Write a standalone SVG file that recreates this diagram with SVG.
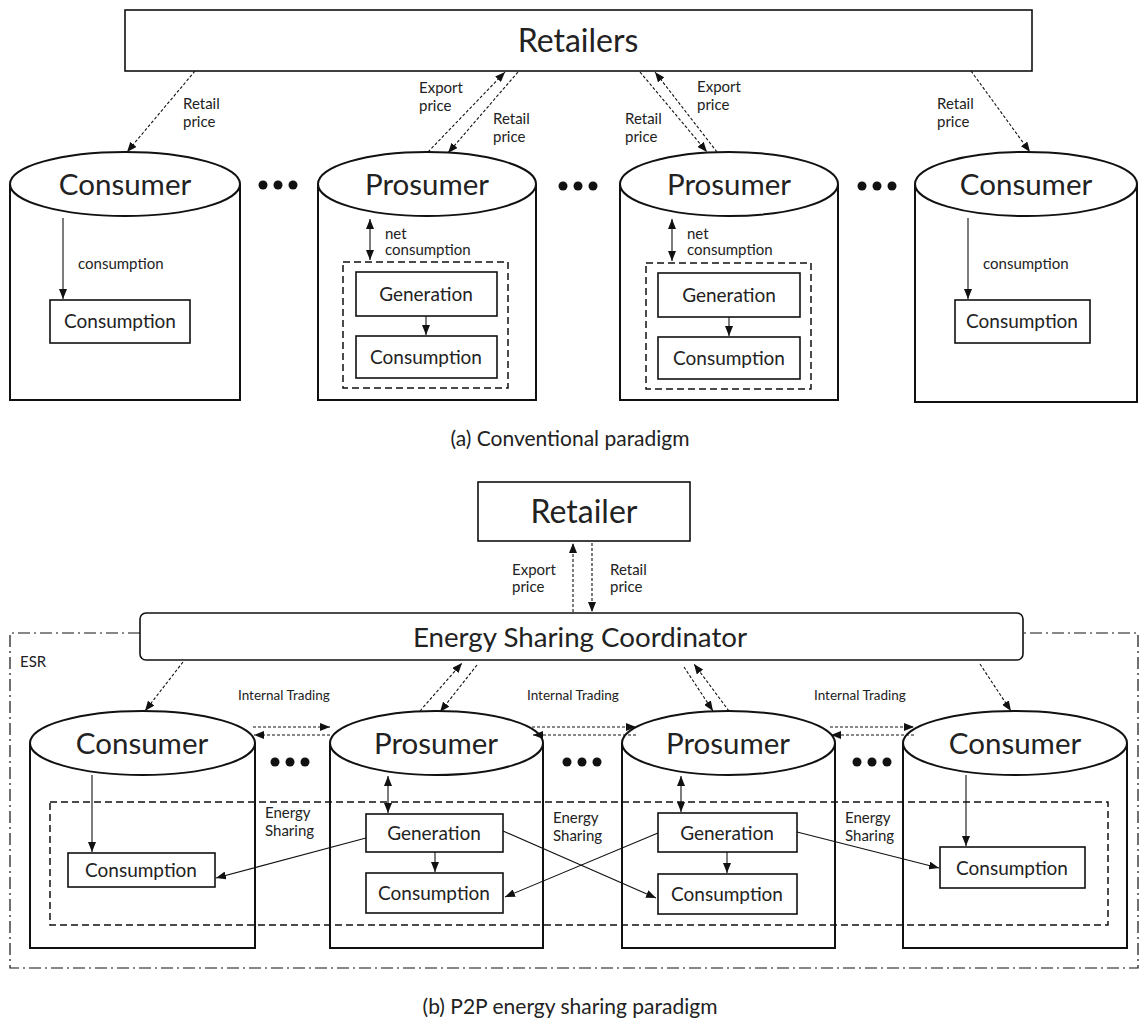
<svg xmlns="http://www.w3.org/2000/svg" width="1140" height="1023" viewBox="0 0 1140 1023">
<style>
text{font-family:Lato,"Open Sans","Liberation Sans",sans-serif;fill:#222}
.big{font-size:29.5px;text-anchor:middle}
.rt{font-size:32px;text-anchor:middle}
.mid{font-size:19px;text-anchor:middle}
.sm{font-size:15px}
.it{font-size:13.5px}
.cap{font-size:21px;text-anchor:middle}
.cyl{fill:#fff;stroke:#111;stroke-width:2}
.box{fill:#fff;stroke:#111;stroke-width:1.6}
.dbox{fill:none;stroke:#111;stroke-width:1.5;stroke-dasharray:7,4}
.ln{fill:none;stroke:#111;stroke-width:1.1}
.dl{fill:none;stroke:#111;stroke-width:1.1;stroke-dasharray:3,2}
.dot{fill:#111}
</style>
<defs>
<marker id="ah" viewBox="0 0 10 8" refX="10" refY="4" markerWidth="10" markerHeight="8" markerUnits="userSpaceOnUse" orient="auto-start-reverse"><path d="M0,0 L10,4 L0,8 z" fill="#111"/></marker>
</defs>

<!-- (a) Conventional paradigm -->
<g id="retailers"><rect x="125" y="10" width="907" height="61" class="box" stroke-width="2"/><text x="578" y="52" class="rt">Retailers</text></g>

<g id="consumerA1">
<path d="M10,184 V400 H240 V184" class="cyl"/><ellipse cx="125" cy="184" rx="115" ry="32" class="cyl"/>
<text x="125" y="195" class="big">Consumer</text>
<rect x="50" y="300" width="140" height="43" class="box"/><text x="120" y="328" class="mid">Consumption</text>
</g>
<g id="prosumerA1">
<path d="M318,184 V400 H536 V184" class="cyl"/><ellipse cx="427" cy="184" rx="109" ry="32" class="cyl"/>
<text x="427" y="195" class="big">Prosumer</text>
<rect x="343" y="262" width="165" height="126" class="dbox"/>
<rect x="356" y="272" width="141" height="44" class="box"/><text x="426" y="301" class="mid">Generation</text>
<rect x="356" y="336" width="141" height="42" class="box"/><text x="426" y="364" class="mid">Consumption</text>
</g>
<g id="prosumerA2">
<path d="M620,184 V400 H838 V184" class="cyl"/><ellipse cx="729" cy="184" rx="109" ry="32" class="cyl"/>
<text x="729" y="195" class="big">Prosumer</text>
<rect x="646" y="263" width="165" height="126" class="dbox"/>
<rect x="658" y="273" width="142" height="44" class="box"/><text x="729" y="302" class="mid">Generation</text>
<rect x="658" y="337" width="142" height="42" class="box"/><text x="729" y="365" class="mid">Consumption</text>
</g>
<g id="consumerA2">
<path d="M915,184 V402 H1137 V184" class="cyl"/><ellipse cx="1026" cy="184" rx="111" ry="32" class="cyl"/>
<text x="1026" y="195" class="big">Consumer</text>
<rect x="955" y="300" width="135" height="43" class="box"/><text x="1022" y="328" class="mid">Consumption</text>
</g>
<g id="dotsA" class="dot">
<circle cx="263" cy="185" r="4.5"/><circle cx="278" cy="185" r="4.5"/><circle cx="293" cy="185" r="4.5"/>
<circle cx="563" cy="186" r="4.5"/><circle cx="578" cy="186" r="4.5"/><circle cx="593" cy="186" r="4.5"/>
<circle cx="862" cy="186" r="4.5"/><circle cx="877" cy="186" r="4.5"/><circle cx="892" cy="186" r="4.5"/>
</g>

<g id="connectorsA">
<line x1="195" y1="71" x2="127" y2="152" class="dl" marker-end="url(#ah)"/>
<line x1="428" y1="152" x2="505" y2="72" class="dl" marker-end="url(#ah)"/>
<line x1="518" y1="72" x2="448" y2="153" class="dl" marker-end="url(#ah)"/>
<line x1="640" y1="72" x2="707" y2="152" class="dl" marker-end="url(#ah)"/>
<line x1="717" y1="152" x2="655" y2="72" class="dl" marker-end="url(#ah)"/>
<line x1="971" y1="71" x2="1030" y2="152" class="dl" marker-end="url(#ah)"/>
<line x1="63" y1="218" x2="63" y2="299" class="ln" marker-end="url(#ah)"/>
<line x1="370" y1="219" x2="370" y2="260" class="ln" marker-start="url(#ah)" marker-end="url(#ah)"/>
<line x1="426" y1="316" x2="426" y2="335" class="ln" marker-end="url(#ah)"/>
<line x1="672" y1="219" x2="672" y2="261" class="ln" marker-start="url(#ah)" marker-end="url(#ah)"/>
<line x1="729" y1="317" x2="729" y2="336" class="ln" marker-end="url(#ah)"/>
<line x1="968" y1="218" x2="968" y2="299" class="ln" marker-end="url(#ah)"/>
</g>
<g id="labelsA" class="sm">
<text x="183" y="109">Retail</text><text x="183" y="127">price</text>
<text x="419" y="93">Export</text><text x="419" y="111">price</text>
<text x="493" y="124">Retail</text><text x="493" y="142">price</text>
<text x="625" y="124">Retail</text><text x="625" y="142">price</text>
<text x="697" y="92">Export</text><text x="697" y="110">price</text>
<text x="937" y="109">Retail</text><text x="937" y="127">price</text>
<text x="78" y="269">consumption</text>
<text x="385" y="239">net</text><text x="385" y="255">consumption</text>
<text x="687" y="239">net</text><text x="687" y="255">consumption</text>
<text x="983" y="269">consumption</text>
</g>
<text x="570" y="446" class="cap">(a) Conventional paradigm</text>

<!-- (b) P2P energy sharing paradigm -->
<g id="esr"><path d="M140,633 H10 V968 H1138 V633 H1023" fill="none" stroke="#111" stroke-width="1.2" stroke-dasharray="12,4,2,4"/><text x="20" y="667" style="font-size:15px">ESR</text></g>
<g id="retailer"><rect x="478" y="482" width="212" height="59" class="box" stroke-width="2"/><text x="584" y="523" class="rt">Retailer</text></g>
<g id="coordinator"><rect x="140" y="613" width="883" height="47" rx="6" class="box" stroke-width="2"/><text x="580" y="647" class="big" style="font-size:27.7px">Energy Sharing Coordinator</text></g>
<g id="sharedArea"><rect x="50" y="802" width="1058" height="123" class="dbox"/></g>

<g id="consumerB1">
<path d="M30,743 V948 H255 V743" class="cyl" style="fill:none"/><ellipse cx="142.5" cy="743" rx="112.5" ry="32" class="cyl"/>
<text x="142" y="754" class="big">Consumer</text>
<rect x="68" y="853" width="147" height="34" class="box"/><text x="141" y="877" class="mid">Consumption</text>
</g>
<g id="prosumerB1">
<path d="M330,743 V948 H543 V743" class="cyl" style="fill:none"/><ellipse cx="436.5" cy="743" rx="106.5" ry="32" class="cyl"/>
<text x="436" y="754" class="big">Prosumer</text>
<rect x="366" y="814" width="137" height="38" class="box"/><text x="434" y="840" class="mid">Generation</text>
<rect x="366" y="873" width="137" height="40" class="box"/><text x="434" y="900" class="mid">Consumption</text>
</g>
<g id="prosumerB2">
<path d="M622,743 V948 H835 V743" class="cyl" style="fill:none"/><ellipse cx="728.5" cy="743" rx="106.5" ry="32" class="cyl"/>
<text x="728" y="754" class="big">Prosumer</text>
<rect x="658" y="813" width="139" height="39" class="box"/><text x="727" y="840" class="mid">Generation</text>
<rect x="658" y="874" width="139" height="40" class="box"/><text x="727" y="901" class="mid">Consumption</text>
</g>
<g id="consumerB2">
<path d="M903,743 V948 H1127 V743" class="cyl" style="fill:none"/><ellipse cx="1015" cy="743" rx="112" ry="32" class="cyl"/>
<text x="1015" y="754" class="big">Consumer</text>
<rect x="940" y="847" width="145" height="41" class="box"/><text x="1012" y="875" class="mid">Consumption</text>
</g>
<g id="dotsB" class="dot">
<circle cx="275" cy="762" r="4.5"/><circle cx="290" cy="762" r="4.5"/><circle cx="305" cy="762" r="4.5"/>
<circle cx="567" cy="762" r="4.5"/><circle cx="582" cy="762" r="4.5"/><circle cx="597" cy="762" r="4.5"/>
<circle cx="857" cy="762" r="4.5"/><circle cx="872" cy="762" r="4.5"/><circle cx="887" cy="762" r="4.5"/>
</g>

<g id="connectorsB">
<line x1="573" y1="612" x2="573" y2="543" class="dl" marker-end="url(#ah)"/>
<line x1="592" y1="543" x2="592" y2="612" class="dl" marker-end="url(#ah)"/>
<line x1="183" y1="662" x2="145" y2="711" class="dl" marker-end="url(#ah)"/>
<line x1="420" y1="711" x2="462" y2="663" class="dl" marker-end="url(#ah)"/>
<line x1="477" y1="665" x2="440" y2="712" class="dl" marker-end="url(#ah)"/>
<line x1="684" y1="667" x2="713" y2="711" class="dl" marker-end="url(#ah)"/>
<line x1="729" y1="711" x2="694" y2="664" class="dl" marker-end="url(#ah)"/>
<line x1="980" y1="664" x2="1011" y2="711" class="dl" marker-end="url(#ah)"/>
<line x1="253" y1="727" x2="330" y2="727" class="dl" marker-end="url(#ah)"/>
<line x1="330" y1="735" x2="254" y2="735" class="dl" marker-end="url(#ah)"/>
<line x1="532" y1="727" x2="636" y2="727" class="dl" marker-end="url(#ah)"/>
<line x1="636" y1="735" x2="533" y2="735" class="dl" marker-end="url(#ah)"/>
<line x1="830" y1="727" x2="914" y2="727" class="dl" marker-end="url(#ah)"/>
<line x1="914" y1="735" x2="831" y2="735" class="dl" marker-end="url(#ah)"/>
<line x1="92" y1="775" x2="92" y2="852" class="ln" marker-end="url(#ah)"/>
<line x1="388" y1="776" x2="388" y2="813" class="ln" marker-start="url(#ah)" marker-end="url(#ah)"/>
<line x1="435" y1="852" x2="435" y2="872" class="ln" marker-end="url(#ah)"/>
<line x1="681" y1="776" x2="681" y2="812" class="ln" marker-start="url(#ah)" marker-end="url(#ah)"/>
<line x1="727" y1="852" x2="727" y2="873" class="ln" marker-end="url(#ah)"/>
<line x1="966" y1="775" x2="966" y2="846" class="ln" marker-end="url(#ah)"/>
<line x1="366" y1="838" x2="216" y2="878" class="ln" marker-end="url(#ah)"/>
<line x1="503" y1="831" x2="656" y2="898" class="ln" marker-end="url(#ah)"/>
<line x1="658" y1="833" x2="505" y2="897" class="ln" marker-end="url(#ah)"/>
<line x1="797" y1="832" x2="939" y2="868" class="ln" marker-end="url(#ah)"/>
</g>
<g id="labelsB" class="sm">
<text x="512" y="575">Export</text><text x="512" y="592">price</text>
<text x="610" y="575">Retail</text><text x="610" y="592">price</text>
<text x="238" y="700" class="it">Internal Trading</text>
<text x="527" y="700" class="it">Internal Trading</text>
<text x="814" y="700" class="it">Internal Trading</text>
<text x="265" y="818">Energy</text><text x="265" y="836">Sharing</text>
<text x="553" y="823">Energy</text><text x="553" y="841">Sharing</text>
<text x="845" y="823">Energy</text><text x="845" y="841">Sharing</text>
</g>
<text x="570" y="1014" class="cap">(b) P2P energy sharing paradigm</text>
</svg>
